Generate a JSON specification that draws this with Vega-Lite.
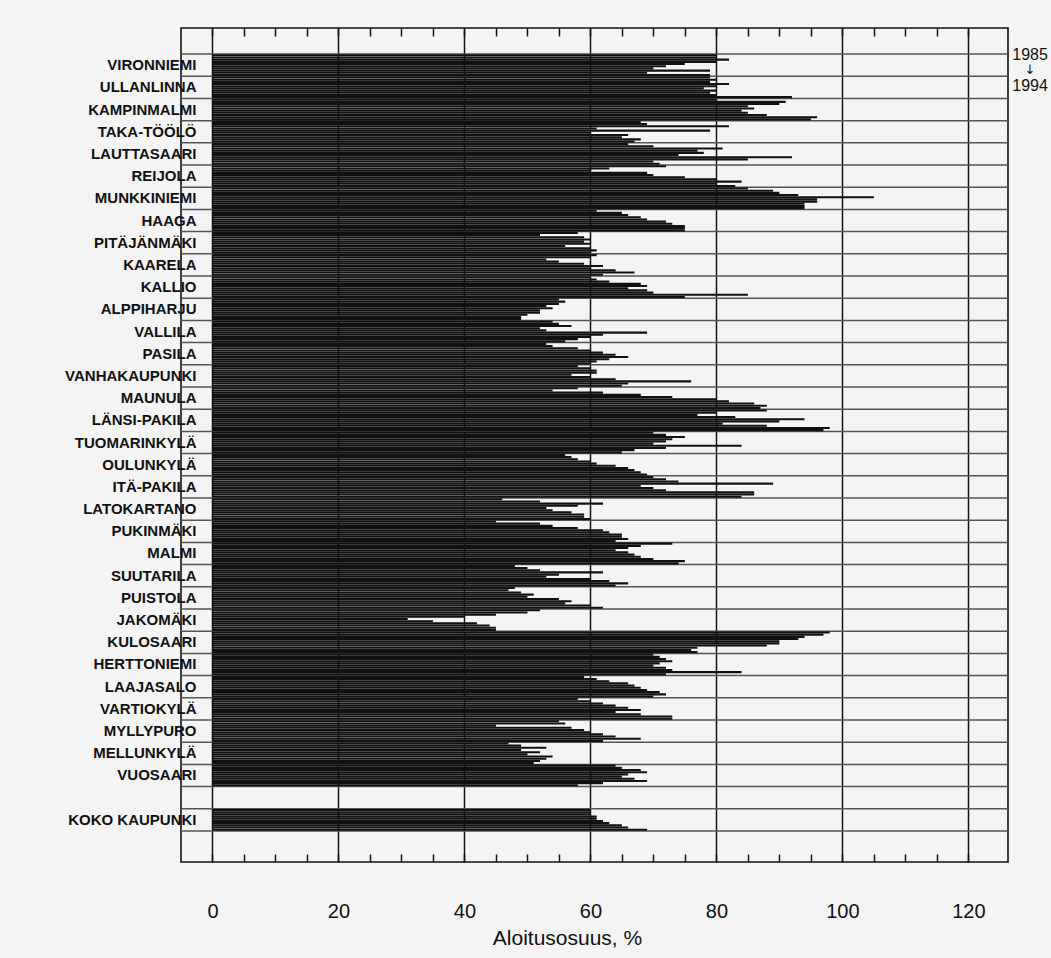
{
  "$schema": "https://vega.github.io/schema/vega-lite/v6.json",
  "width": 827,
  "height": 834,
  "autosize": "none",
  "padding": {"left": 181, "top": 28, "right": 43, "bottom": 96},
  "background": "#f4f4f4",
  "config": {"view": {"stroke": "#111", "strokeWidth": 1.6}, "font": "Liberation Sans"},
  "datasets": {
    "rows": [
      {"row": "VIRONNIEMI"}, {"row": "ULLANLINNA"}, {"row": "KAMPINMALMI"}, {"row": "TAKA-TÖÖLÖ"}, {"row": "LAUTTASAARI"},
      {"row": "REIJOLA"}, {"row": "MUNKKINIEMI"}, {"row": "HAAGA"}, {"row": "PITÄJÄNMÄKI"}, {"row": "KAARELA"},
      {"row": "KALLIO"}, {"row": "ALPPIHARJU"}, {"row": "VALLILA"}, {"row": "PASILA"}, {"row": "VANHAKAUPUNKI"},
      {"row": "MAUNULA"}, {"row": "LÄNSI-PAKILA"}, {"row": "TUOMARINKYLÄ"}, {"row": "OULUNKYLÄ"}, {"row": "ITÄ-PAKILA"},
      {"row": "LATOKARTANO"}, {"row": "PUKINMÄKI"}, {"row": "MALMI"}, {"row": "SUUTARILA"}, {"row": "PUISTOLA"},
      {"row": "JAKOMÄKI"}, {"row": "KULOSAARI"}, {"row": "HERTTONIEMI"}, {"row": "LAAJASALO"}, {"row": "VARTIOKYLÄ"},
      {"row": "MYLLYPURO"}, {"row": "MELLUNKYLÄ"}, {"row": "VUOSAARI"}, {"row": "_gap"}, {"row": "KOKO KAUPUNKI"}
    ],
    "bars": [
      {"district": "VIRONNIEMI", "year": 1985, "value": 80}, {"district": "VIRONNIEMI", "year": 1986, "value": 80}, {"district": "VIRONNIEMI", "year": 1987, "value": 82}, {"district": "VIRONNIEMI", "year": 1988, "value": 80}, {"district": "VIRONNIEMI", "year": 1989, "value": 75}, {"district": "VIRONNIEMI", "year": 1990, "value": 72}, {"district": "VIRONNIEMI", "year": 1991, "value": 70}, {"district": "VIRONNIEMI", "year": 1992, "value": 79}, {"district": "VIRONNIEMI", "year": 1993, "value": 69}, {"district": "VIRONNIEMI", "year": 1994, "value": 79},
      {"district": "ULLANLINNA", "year": 1985, "value": 79}, {"district": "ULLANLINNA", "year": 1986, "value": 80}, {"district": "ULLANLINNA", "year": 1987, "value": 79}, {"district": "ULLANLINNA", "year": 1988, "value": 82}, {"district": "ULLANLINNA", "year": 1989, "value": 80}, {"district": "ULLANLINNA", "year": 1990, "value": 78}, {"district": "ULLANLINNA", "year": 1991, "value": 80}, {"district": "ULLANLINNA", "year": 1992, "value": 79}, {"district": "ULLANLINNA", "year": 1993, "value": 80}, {"district": "ULLANLINNA", "year": 1994, "value": 92},
      {"district": "KAMPINMALMI", "year": 1985, "value": 80}, {"district": "KAMPINMALMI", "year": 1986, "value": 91}, {"district": "KAMPINMALMI", "year": 1987, "value": 90}, {"district": "KAMPINMALMI", "year": 1988, "value": 85}, {"district": "KAMPINMALMI", "year": 1989, "value": 86}, {"district": "KAMPINMALMI", "year": 1990, "value": 84}, {"district": "KAMPINMALMI", "year": 1991, "value": 85}, {"district": "KAMPINMALMI", "year": 1992, "value": 88}, {"district": "KAMPINMALMI", "year": 1993, "value": 96}, {"district": "KAMPINMALMI", "year": 1994, "value": 95},
      {"district": "TAKA-TÖÖLÖ", "year": 1985, "value": 68}, {"district": "TAKA-TÖÖLÖ", "year": 1986, "value": 69}, {"district": "TAKA-TÖÖLÖ", "year": 1987, "value": 82}, {"district": "TAKA-TÖÖLÖ", "year": 1988, "value": 61}, {"district": "TAKA-TÖÖLÖ", "year": 1989, "value": 79}, {"district": "TAKA-TÖÖLÖ", "year": 1990, "value": 60}, {"district": "TAKA-TÖÖLÖ", "year": 1991, "value": 66}, {"district": "TAKA-TÖÖLÖ", "year": 1992, "value": 65}, {"district": "TAKA-TÖÖLÖ", "year": 1993, "value": 68}, {"district": "TAKA-TÖÖLÖ", "year": 1994, "value": 67},
      {"district": "LAUTTASAARI", "year": 1985, "value": 66}, {"district": "LAUTTASAARI", "year": 1986, "value": 70}, {"district": "LAUTTASAARI", "year": 1987, "value": 81}, {"district": "LAUTTASAARI", "year": 1988, "value": 77}, {"district": "LAUTTASAARI", "year": 1989, "value": 78}, {"district": "LAUTTASAARI", "year": 1990, "value": 74}, {"district": "LAUTTASAARI", "year": 1991, "value": 92}, {"district": "LAUTTASAARI", "year": 1992, "value": 85}, {"district": "LAUTTASAARI", "year": 1993, "value": 70}, {"district": "LAUTTASAARI", "year": 1994, "value": 71},
      {"district": "REIJOLA", "year": 1985, "value": 72}, {"district": "REIJOLA", "year": 1986, "value": 63}, {"district": "REIJOLA", "year": 1987, "value": 60}, {"district": "REIJOLA", "year": 1988, "value": 69}, {"district": "REIJOLA", "year": 1989, "value": 70}, {"district": "REIJOLA", "year": 1990, "value": 75}, {"district": "REIJOLA", "year": 1991, "value": 80}, {"district": "REIJOLA", "year": 1992, "value": 84}, {"district": "REIJOLA", "year": 1993, "value": 80}, {"district": "REIJOLA", "year": 1994, "value": 83},
      {"district": "MUNKKINIEMI", "year": 1985, "value": 85}, {"district": "MUNKKINIEMI", "year": 1986, "value": 89}, {"district": "MUNKKINIEMI", "year": 1987, "value": 90}, {"district": "MUNKKINIEMI", "year": 1988, "value": 93}, {"district": "MUNKKINIEMI", "year": 1989, "value": 105}, {"district": "MUNKKINIEMI", "year": 1990, "value": 96}, {"district": "MUNKKINIEMI", "year": 1991, "value": 96}, {"district": "MUNKKINIEMI", "year": 1992, "value": 94}, {"district": "MUNKKINIEMI", "year": 1993, "value": 94}, {"district": "MUNKKINIEMI", "year": 1994, "value": 94},
      {"district": "HAAGA", "year": 1985, "value": 61}, {"district": "HAAGA", "year": 1986, "value": 65}, {"district": "HAAGA", "year": 1987, "value": 66}, {"district": "HAAGA", "year": 1988, "value": 68}, {"district": "HAAGA", "year": 1989, "value": 69}, {"district": "HAAGA", "year": 1990, "value": 72}, {"district": "HAAGA", "year": 1991, "value": 73}, {"district": "HAAGA", "year": 1992, "value": 75}, {"district": "HAAGA", "year": 1993, "value": 75}, {"district": "HAAGA", "year": 1994, "value": 75},
      {"district": "PITÄJÄNMÄKI", "year": 1985, "value": 58}, {"district": "PITÄJÄNMÄKI", "year": 1986, "value": 52}, {"district": "PITÄJÄNMÄKI", "year": 1987, "value": 59}, {"district": "PITÄJÄNMÄKI", "year": 1988, "value": 60}, {"district": "PITÄJÄNMÄKI", "year": 1989, "value": 59}, {"district": "PITÄJÄNMÄKI", "year": 1990, "value": 60}, {"district": "PITÄJÄNMÄKI", "year": 1991, "value": 56}, {"district": "PITÄJÄNMÄKI", "year": 1992, "value": 60}, {"district": "PITÄJÄNMÄKI", "year": 1993, "value": 61}, {"district": "PITÄJÄNMÄKI", "year": 1994, "value": 60},
      {"district": "KAARELA", "year": 1985, "value": 61}, {"district": "KAARELA", "year": 1986, "value": 60}, {"district": "KAARELA", "year": 1987, "value": 53}, {"district": "KAARELA", "year": 1988, "value": 55}, {"district": "KAARELA", "year": 1989, "value": 59}, {"district": "KAARELA", "year": 1990, "value": 62}, {"district": "KAARELA", "year": 1991, "value": 60}, {"district": "KAARELA", "year": 1992, "value": 64}, {"district": "KAARELA", "year": 1993, "value": 67}, {"district": "KAARELA", "year": 1994, "value": 62},
      {"district": "KALLIO", "year": 1985, "value": 60}, {"district": "KALLIO", "year": 1986, "value": 61}, {"district": "KALLIO", "year": 1987, "value": 63}, {"district": "KALLIO", "year": 1988, "value": 68}, {"district": "KALLIO", "year": 1989, "value": 69}, {"district": "KALLIO", "year": 1990, "value": 66}, {"district": "KALLIO", "year": 1991, "value": 69}, {"district": "KALLIO", "year": 1992, "value": 70}, {"district": "KALLIO", "year": 1993, "value": 85}, {"district": "KALLIO", "year": 1994, "value": 75},
      {"district": "ALPPIHARJU", "year": 1985, "value": 55}, {"district": "ALPPIHARJU", "year": 1986, "value": 56}, {"district": "ALPPIHARJU", "year": 1987, "value": 55}, {"district": "ALPPIHARJU", "year": 1988, "value": 53}, {"district": "ALPPIHARJU", "year": 1989, "value": 54}, {"district": "ALPPIHARJU", "year": 1990, "value": 52}, {"district": "ALPPIHARJU", "year": 1991, "value": 52}, {"district": "ALPPIHARJU", "year": 1992, "value": 50}, {"district": "ALPPIHARJU", "year": 1993, "value": 49}, {"district": "ALPPIHARJU", "year": 1994, "value": 49},
      {"district": "VALLILA", "year": 1985, "value": 54}, {"district": "VALLILA", "year": 1986, "value": 55}, {"district": "VALLILA", "year": 1987, "value": 57}, {"district": "VALLILA", "year": 1988, "value": 52}, {"district": "VALLILA", "year": 1989, "value": 53}, {"district": "VALLILA", "year": 1990, "value": 69}, {"district": "VALLILA", "year": 1991, "value": 62}, {"district": "VALLILA", "year": 1992, "value": 60}, {"district": "VALLILA", "year": 1993, "value": 58}, {"district": "VALLILA", "year": 1994, "value": 56},
      {"district": "PASILA", "year": 1985, "value": 53}, {"district": "PASILA", "year": 1986, "value": 54}, {"district": "PASILA", "year": 1987, "value": 58}, {"district": "PASILA", "year": 1988, "value": 60}, {"district": "PASILA", "year": 1989, "value": 62}, {"district": "PASILA", "year": 1990, "value": 64}, {"district": "PASILA", "year": 1991, "value": 66}, {"district": "PASILA", "year": 1992, "value": 63}, {"district": "PASILA", "year": 1993, "value": 61}, {"district": "PASILA", "year": 1994, "value": 60},
      {"district": "VANHAKAUPUNKI", "year": 1985, "value": 58}, {"district": "VANHAKAUPUNKI", "year": 1986, "value": 60}, {"district": "VANHAKAUPUNKI", "year": 1987, "value": 61}, {"district": "VANHAKAUPUNKI", "year": 1988, "value": 61}, {"district": "VANHAKAUPUNKI", "year": 1989, "value": 57}, {"district": "VANHAKAUPUNKI", "year": 1990, "value": 60}, {"district": "VANHAKAUPUNKI", "year": 1991, "value": 64}, {"district": "VANHAKAUPUNKI", "year": 1992, "value": 76}, {"district": "VANHAKAUPUNKI", "year": 1993, "value": 66}, {"district": "VANHAKAUPUNKI", "year": 1994, "value": 65},
      {"district": "MAUNULA", "year": 1985, "value": 58}, {"district": "MAUNULA", "year": 1986, "value": 54}, {"district": "MAUNULA", "year": 1987, "value": 62}, {"district": "MAUNULA", "year": 1988, "value": 68}, {"district": "MAUNULA", "year": 1989, "value": 73}, {"district": "MAUNULA", "year": 1990, "value": 80}, {"district": "MAUNULA", "year": 1991, "value": 82}, {"district": "MAUNULA", "year": 1992, "value": 86}, {"district": "MAUNULA", "year": 1993, "value": 88}, {"district": "MAUNULA", "year": 1994, "value": 87},
      {"district": "LÄNSI-PAKILA", "year": 1985, "value": 88}, {"district": "LÄNSI-PAKILA", "year": 1986, "value": 80}, {"district": "LÄNSI-PAKILA", "year": 1987, "value": 77}, {"district": "LÄNSI-PAKILA", "year": 1988, "value": 83}, {"district": "LÄNSI-PAKILA", "year": 1989, "value": 94}, {"district": "LÄNSI-PAKILA", "year": 1990, "value": 90}, {"district": "LÄNSI-PAKILA", "year": 1991, "value": 81}, {"district": "LÄNSI-PAKILA", "year": 1992, "value": 88}, {"district": "LÄNSI-PAKILA", "year": 1993, "value": 98}, {"district": "LÄNSI-PAKILA", "year": 1994, "value": 97},
      {"district": "TUOMARINKYLÄ", "year": 1985, "value": 70}, {"district": "TUOMARINKYLÄ", "year": 1986, "value": 72}, {"district": "TUOMARINKYLÄ", "year": 1987, "value": 75}, {"district": "TUOMARINKYLÄ", "year": 1988, "value": 73}, {"district": "TUOMARINKYLÄ", "year": 1989, "value": 72}, {"district": "TUOMARINKYLÄ", "year": 1990, "value": 70}, {"district": "TUOMARINKYLÄ", "year": 1991, "value": 84}, {"district": "TUOMARINKYLÄ", "year": 1992, "value": 72}, {"district": "TUOMARINKYLÄ", "year": 1993, "value": 67}, {"district": "TUOMARINKYLÄ", "year": 1994, "value": 65},
      {"district": "OULUNKYLÄ", "year": 1985, "value": 56}, {"district": "OULUNKYLÄ", "year": 1986, "value": 57}, {"district": "OULUNKYLÄ", "year": 1987, "value": 58}, {"district": "OULUNKYLÄ", "year": 1988, "value": 60}, {"district": "OULUNKYLÄ", "year": 1989, "value": 61}, {"district": "OULUNKYLÄ", "year": 1990, "value": 64}, {"district": "OULUNKYLÄ", "year": 1991, "value": 66}, {"district": "OULUNKYLÄ", "year": 1992, "value": 67}, {"district": "OULUNKYLÄ", "year": 1993, "value": 68}, {"district": "OULUNKYLÄ", "year": 1994, "value": 69},
      {"district": "ITÄ-PAKILA", "year": 1985, "value": 70}, {"district": "ITÄ-PAKILA", "year": 1986, "value": 72}, {"district": "ITÄ-PAKILA", "year": 1987, "value": 74}, {"district": "ITÄ-PAKILA", "year": 1988, "value": 89}, {"district": "ITÄ-PAKILA", "year": 1989, "value": 68}, {"district": "ITÄ-PAKILA", "year": 1990, "value": 70}, {"district": "ITÄ-PAKILA", "year": 1991, "value": 72}, {"district": "ITÄ-PAKILA", "year": 1992, "value": 86}, {"district": "ITÄ-PAKILA", "year": 1993, "value": 86}, {"district": "ITÄ-PAKILA", "year": 1994, "value": 84},
      {"district": "LATOKARTANO", "year": 1985, "value": 46}, {"district": "LATOKARTANO", "year": 1986, "value": 52}, {"district": "LATOKARTANO", "year": 1987, "value": 62}, {"district": "LATOKARTANO", "year": 1988, "value": 58}, {"district": "LATOKARTANO", "year": 1989, "value": 53}, {"district": "LATOKARTANO", "year": 1990, "value": 54}, {"district": "LATOKARTANO", "year": 1991, "value": 57}, {"district": "LATOKARTANO", "year": 1992, "value": 59}, {"district": "LATOKARTANO", "year": 1993, "value": 59}, {"district": "LATOKARTANO", "year": 1994, "value": 60},
      {"district": "PUKINMÄKI", "year": 1985, "value": 45}, {"district": "PUKINMÄKI", "year": 1986, "value": 52}, {"district": "PUKINMÄKI", "year": 1987, "value": 54}, {"district": "PUKINMÄKI", "year": 1988, "value": 58}, {"district": "PUKINMÄKI", "year": 1989, "value": 62}, {"district": "PUKINMÄKI", "year": 1990, "value": 63}, {"district": "PUKINMÄKI", "year": 1991, "value": 65}, {"district": "PUKINMÄKI", "year": 1992, "value": 65}, {"district": "PUKINMÄKI", "year": 1993, "value": 66}, {"district": "PUKINMÄKI", "year": 1994, "value": 64},
      {"district": "MALMI", "year": 1985, "value": 73}, {"district": "MALMI", "year": 1986, "value": 68}, {"district": "MALMI", "year": 1987, "value": 66}, {"district": "MALMI", "year": 1988, "value": 64}, {"district": "MALMI", "year": 1989, "value": 66}, {"district": "MALMI", "year": 1990, "value": 67}, {"district": "MALMI", "year": 1991, "value": 68}, {"district": "MALMI", "year": 1992, "value": 70}, {"district": "MALMI", "year": 1993, "value": 75}, {"district": "MALMI", "year": 1994, "value": 74},
      {"district": "SUUTARILA", "year": 1985, "value": 48}, {"district": "SUUTARILA", "year": 1986, "value": 50}, {"district": "SUUTARILA", "year": 1987, "value": 52}, {"district": "SUUTARILA", "year": 1988, "value": 62}, {"district": "SUUTARILA", "year": 1989, "value": 55}, {"district": "SUUTARILA", "year": 1990, "value": 53}, {"district": "SUUTARILA", "year": 1991, "value": 60}, {"district": "SUUTARILA", "year": 1992, "value": 63}, {"district": "SUUTARILA", "year": 1993, "value": 66}, {"district": "SUUTARILA", "year": 1994, "value": 64},
      {"district": "PUISTOLA", "year": 1985, "value": 48}, {"district": "PUISTOLA", "year": 1986, "value": 47}, {"district": "PUISTOLA", "year": 1987, "value": 49}, {"district": "PUISTOLA", "year": 1988, "value": 51}, {"district": "PUISTOLA", "year": 1989, "value": 50}, {"district": "PUISTOLA", "year": 1990, "value": 55}, {"district": "PUISTOLA", "year": 1991, "value": 57}, {"district": "PUISTOLA", "year": 1992, "value": 56}, {"district": "PUISTOLA", "year": 1993, "value": 60}, {"district": "PUISTOLA", "year": 1994, "value": 62},
      {"district": "JAKOMÄKI", "year": 1985, "value": 52}, {"district": "JAKOMÄKI", "year": 1986, "value": 50}, {"district": "JAKOMÄKI", "year": 1987, "value": 45}, {"district": "JAKOMÄKI", "year": 1988, "value": 40}, {"district": "JAKOMÄKI", "year": 1989, "value": 31}, {"district": "JAKOMÄKI", "year": 1990, "value": 35}, {"district": "JAKOMÄKI", "year": 1991, "value": 42}, {"district": "JAKOMÄKI", "year": 1992, "value": 44}, {"district": "JAKOMÄKI", "year": 1993, "value": 45}, {"district": "JAKOMÄKI", "year": 1994, "value": 45},
      {"district": "KULOSAARI", "year": 1985, "value": 98}, {"district": "KULOSAARI", "year": 1986, "value": 97}, {"district": "KULOSAARI", "year": 1987, "value": 94}, {"district": "KULOSAARI", "year": 1988, "value": 93}, {"district": "KULOSAARI", "year": 1989, "value": 90}, {"district": "KULOSAARI", "year": 1990, "value": 90}, {"district": "KULOSAARI", "year": 1991, "value": 88}, {"district": "KULOSAARI", "year": 1992, "value": 77}, {"district": "KULOSAARI", "year": 1993, "value": 76}, {"district": "KULOSAARI", "year": 1994, "value": 77},
      {"district": "HERTTONIEMI", "year": 1985, "value": 70}, {"district": "HERTTONIEMI", "year": 1986, "value": 71}, {"district": "HERTTONIEMI", "year": 1987, "value": 72}, {"district": "HERTTONIEMI", "year": 1988, "value": 73}, {"district": "HERTTONIEMI", "year": 1989, "value": 71}, {"district": "HERTTONIEMI", "year": 1990, "value": 70}, {"district": "HERTTONIEMI", "year": 1991, "value": 72}, {"district": "HERTTONIEMI", "year": 1992, "value": 73}, {"district": "HERTTONIEMI", "year": 1993, "value": 84}, {"district": "HERTTONIEMI", "year": 1994, "value": 72},
      {"district": "LAAJASALO", "year": 1985, "value": 59}, {"district": "LAAJASALO", "year": 1986, "value": 61}, {"district": "LAAJASALO", "year": 1987, "value": 63}, {"district": "LAAJASALO", "year": 1988, "value": 66}, {"district": "LAAJASALO", "year": 1989, "value": 67}, {"district": "LAAJASALO", "year": 1990, "value": 68}, {"district": "LAAJASALO", "year": 1991, "value": 69}, {"district": "LAAJASALO", "year": 1992, "value": 71}, {"district": "LAAJASALO", "year": 1993, "value": 72}, {"district": "LAAJASALO", "year": 1994, "value": 70},
      {"district": "VARTIOKYLÄ", "year": 1985, "value": 58}, {"district": "VARTIOKYLÄ", "year": 1986, "value": 60}, {"district": "VARTIOKYLÄ", "year": 1987, "value": 62}, {"district": "VARTIOKYLÄ", "year": 1988, "value": 64}, {"district": "VARTIOKYLÄ", "year": 1989, "value": 66}, {"district": "VARTIOKYLÄ", "year": 1990, "value": 68}, {"district": "VARTIOKYLÄ", "year": 1991, "value": 64}, {"district": "VARTIOKYLÄ", "year": 1992, "value": 68}, {"district": "VARTIOKYLÄ", "year": 1993, "value": 73}, {"district": "VARTIOKYLÄ", "year": 1994, "value": 73},
      {"district": "MYLLYPURO", "year": 1985, "value": 55}, {"district": "MYLLYPURO", "year": 1986, "value": 56}, {"district": "MYLLYPURO", "year": 1987, "value": 45}, {"district": "MYLLYPURO", "year": 1988, "value": 57}, {"district": "MYLLYPURO", "year": 1989, "value": 59}, {"district": "MYLLYPURO", "year": 1990, "value": 60}, {"district": "MYLLYPURO", "year": 1991, "value": 62}, {"district": "MYLLYPURO", "year": 1992, "value": 64}, {"district": "MYLLYPURO", "year": 1993, "value": 68}, {"district": "MYLLYPURO", "year": 1994, "value": 62},
      {"district": "MELLUNKYLÄ", "year": 1985, "value": 47}, {"district": "MELLUNKYLÄ", "year": 1986, "value": 49}, {"district": "MELLUNKYLÄ", "year": 1987, "value": 53}, {"district": "MELLUNKYLÄ", "year": 1988, "value": 49}, {"district": "MELLUNKYLÄ", "year": 1989, "value": 52}, {"district": "MELLUNKYLÄ", "year": 1990, "value": 50}, {"district": "MELLUNKYLÄ", "year": 1991, "value": 54}, {"district": "MELLUNKYLÄ", "year": 1992, "value": 53}, {"district": "MELLUNKYLÄ", "year": 1993, "value": 52}, {"district": "MELLUNKYLÄ", "year": 1994, "value": 51},
      {"district": "VUOSAARI", "year": 1985, "value": 64}, {"district": "VUOSAARI", "year": 1986, "value": 65}, {"district": "VUOSAARI", "year": 1987, "value": 68}, {"district": "VUOSAARI", "year": 1988, "value": 69}, {"district": "VUOSAARI", "year": 1989, "value": 66}, {"district": "VUOSAARI", "year": 1990, "value": 65}, {"district": "VUOSAARI", "year": 1991, "value": 67}, {"district": "VUOSAARI", "year": 1992, "value": 69}, {"district": "VUOSAARI", "year": 1993, "value": 62}, {"district": "VUOSAARI", "year": 1994, "value": 58},
      {"district": "KOKO KAUPUNKI", "year": 1985, "value": 60}, {"district": "KOKO KAUPUNKI", "year": 1986, "value": 60}, {"district": "KOKO KAUPUNKI", "year": 1987, "value": 60}, {"district": "KOKO KAUPUNKI", "year": 1988, "value": 61}, {"district": "KOKO KAUPUNKI", "year": 1989, "value": 61}, {"district": "KOKO KAUPUNKI", "year": 1990, "value": 62}, {"district": "KOKO KAUPUNKI", "year": 1991, "value": 63}, {"district": "KOKO KAUPUNKI", "year": 1992, "value": 65}, {"district": "KOKO KAUPUNKI", "year": 1993, "value": 66}, {"district": "KOKO KAUPUNKI", "year": 1994, "value": 69}
    ]
  },
  "layer": [
    {
      "data": {"name": "rows"},
      "mark": {"type": "rule", "color": "#555", "strokeWidth": 1.5},
      "encoding": {
        "y": {
          "field": "row", "type": "nominal", "sort": null, "bandPosition": 0,
          "scale": {"domain": ["_top","VIRONNIEMI","ULLANLINNA","KAMPINMALMI","TAKA-TÖÖLÖ","LAUTTASAARI","REIJOLA","MUNKKINIEMI","HAAGA","PITÄJÄNMÄKI","KAARELA","KALLIO","ALPPIHARJU","VALLILA","PASILA","VANHAKAUPUNKI","MAUNULA","LÄNSI-PAKILA","TUOMARINKYLÄ","OULUNKYLÄ","ITÄ-PAKILA","LATOKARTANO","PUKINMÄKI","MALMI","SUUTARILA","PUISTOLA","JAKOMÄKI","KULOSAARI","HERTTONIEMI","LAAJASALO","VARTIOKYLÄ","MYLLYPURO","MELLUNKYLÄ","VUOSAARI","_gap","KOKO KAUPUNKI"], "paddingInner": 0, "paddingOuter": 0.785, "align": 0.11},
          "axis": {"title": null, "domain": false, "ticks": false, "grid": false, "labelExpr": "indexof(datum.label, '_') === 0 ? '' : datum.label", "labelFont": "Liberation Sans", "labelFontSize": 15, "labelFontWeight": "bold", "labelColor": "#111", "labelPadding": -15}
        }
      }
    },
    {
      "data": {"values": [{"row": "KOKO KAUPUNKI"}]},
      "mark": {"type": "rule", "color": "#555", "strokeWidth": 1.5},
      "encoding": {"y": {"field": "row", "type": "nominal", "bandPosition": 1}}
    },
    {
      "data": {"name": "bars"},
      "mark": {"type": "bar", "color": "#111"},
      "encoding": {
        "y": {"field": "district", "type": "nominal"},
        "yOffset": {"field": "year", "type": "ordinal", "scale": {"paddingInner": 0.04, "paddingOuter": 0.1}},
        "x": {
          "field": "value", "type": "quantitative", "stack": null,
          "scale": {"domain": [-5, 126.3], "nice": false, "zero": false},
          "axis": {
            "values": [0,5,10,15,20,25,30,35,40,45,50,55,60,65,70,75,80,85,90,95,100,105,110,115,120],
            "labelExpr": "datum.value % 20 === 0 ? datum.label : ''",
            "grid": true, "gridColor": "#111", "gridWidth": 1.5,
            "gridOpacity": {"condition": {"test": "datum.value % 20 === 0", "value": 1}, "value": 0},
            "ticks": true, "tickSize": -8, "tickColor": "#111", "tickWidth": 1.5,
            "domain": false, "labelPadding": 47, "labelFontSize": 20, "labelColor": "#111",
            "title": "Aloitusosuus, %", "titleFontSize": 21, "titleFontWeight": "normal", "titleColor": "#111", "titlePadding": 6, "titleX": 386, "titleAlign": "center"
          }
        }
      }
    },
    {
      "data": {"values": [{}]},
      "mark": {"type": "text", "text": ["1985", "", "1994"], "fontSize": 16, "lineHeight": 31, "color": "#111", "align": "center", "baseline": "middle"},
      "encoding": {
        "x": {
          "datum": 129.8, "type": "quantitative",
          "scale": {"domain": [-5, 126.3], "nice": false, "zero": false},
          "axis": {"orient": "top", "values": [0,5,10,15,20,25,30,35,40,45,50,55,60,65,70,75,80,85,90,95,100,105,110,115,120], "labels": false, "domain": false, "grid": false, "ticks": true, "tickSize": -8, "tickColor": "#111", "tickWidth": 1.5, "title": null}
        },
        "y": {"datum": "VIRONNIEMI", "type": "nominal", "bandPosition": 0.05}
      }
    },
    {
      "data": {"values": [{}]},
      "mark": {"type": "text", "text": "↓", "font": "DejaVu Sans", "fontSize": 13, "color": "#111", "align": "center", "baseline": "middle"},
      "encoding": {
        "x": {"datum": 129.8, "type": "quantitative", "axis": null},
        "y": {"datum": "VIRONNIEMI", "type": "nominal", "bandPosition": 0.72}
      }
    }
  ],
  "resolve": {"axis": {"x": "independent"}}
}
